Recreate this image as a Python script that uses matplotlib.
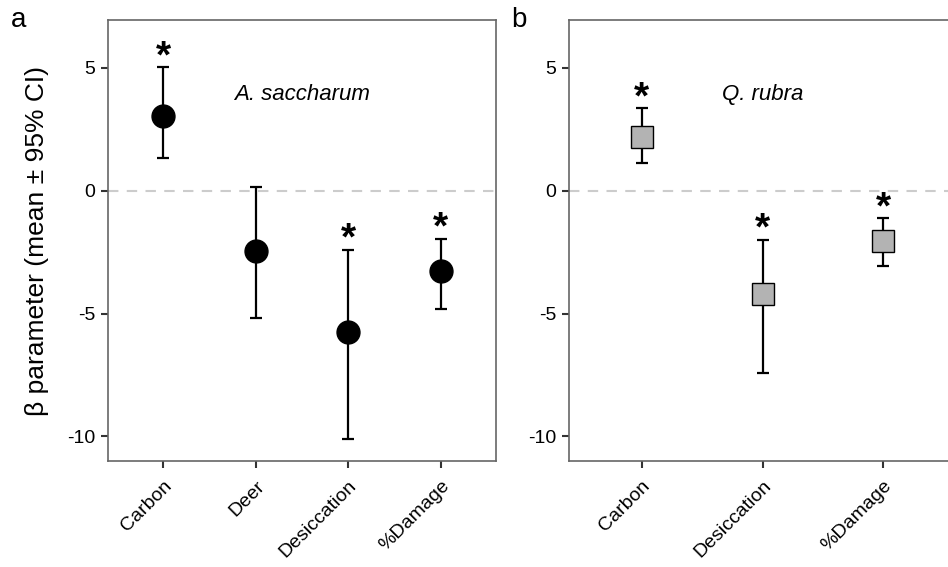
import matplotlib.pyplot as plt

plt.rcParams["font.family"] = ["Liberation Sans", "DejaVu Sans"]

# A. saccharum coefficients
sac_vars = ["Carbon", "Deer", "Desiccation", "%Damage"]
sac_mean = [3.04, -2.44, -5.74, -3.25]
sac_lo = [1.35, -5.19, -10.11, -4.82]
sac_hi = [5.03, 0.15, -2.40, -1.95]
sac_sig = [True, False, True, True]

# Q. rubra coefficients
rub_vars = ["Carbon", "Desiccation", "%Damage"]
rub_mean = [2.17, -4.21, -2.04]
rub_lo = [1.13, -7.41, -3.05]
rub_hi = [3.36, -1.99, -1.11]
rub_sig = [True, True, True]

fig = plt.figure(figsize=(9.48, 5.67), dpi=100)
W, H = 948, 567
ax1 = fig.add_axes([108 / W, 1 - 461 / H, 388 / W, 441 / H])
ax2 = fig.add_axes([569 / W, 1 - 461 / H, 387 / W, 441 / H])


def panel(ax, names, mean, lo, hi, sig, marker, face, species, letter, lx):
    x = list(range(1, len(names) + 1))
    yerr = [[m - l for m, l in zip(mean, lo)], [h - m for m, h in zip(mean, hi)]]
    ax.axhline(0, color="#cccccc", lw=1.5, ls=(0, (5, 4)), zorder=0)
    ax.errorbar(x, mean, yerr=yerr, fmt="none", ecolor="black", elinewidth=1.6,
                capsize=4, capthick=1.6, zorder=2)
    ms = 16.5 if marker == "o" else 15.5
    ax.plot(x, mean, ls="none", marker=marker, ms=ms, mfc=face, mec="black",
            mew=1.0, zorder=3)
    # significance stars above the upper CI limit
    for xi, h, s in zip(x, hi, sig):
        if s:
            ax.annotate("*", (xi, h), xytext=(0, 0), textcoords="offset points",
                        ha="center", va="baseline", fontsize=28,
                        fontweight="bold")
    ax.text((len(names) + 1) / 2, 3.9, species, style="italic", fontsize=16,
            ha="center", va="center")
    ax.set_xlim(0.4, len(names) + 0.6)
    ax.set_ylim(-11.0, 6.95)
    ax.set_yticks([5, 0, -5, -10])
    ax.set_yticklabels(["5", "0", "-5", "-10"])
    ax.set_xticks(x)
    ax.set_xticklabels(names, rotation=45, ha="right", rotation_mode="anchor")
    ax.tick_params(labelsize=14, length=5, width=1.5, color="#333333",
                   labelcolor="black", pad=4)
    ax.tick_params(axis="x", pad=7)
    for sp in ax.spines.values():
        sp.set_color("#666666")
        sp.set_linewidth(1.2)
    fig.text(lx, 1 - 20 / H, letter, fontsize=20, ha="left", va="center")


panel(ax1, sac_vars, sac_mean, sac_lo, sac_hi, sac_sig, "o", "black",
      "A. saccharum", "a", 11 / W)
panel(ax2, rub_vars, rub_mean, rub_lo, rub_hi, rub_sig, "s", "#b3b3b3",
      "Q. rubra", "b", 511 / W)

ax1.set_ylabel("\u03b2 parameter (mean \u00b1 95% CI)", fontsize=19, labelpad=13)

fig.savefig("out.png", dpi=100)
